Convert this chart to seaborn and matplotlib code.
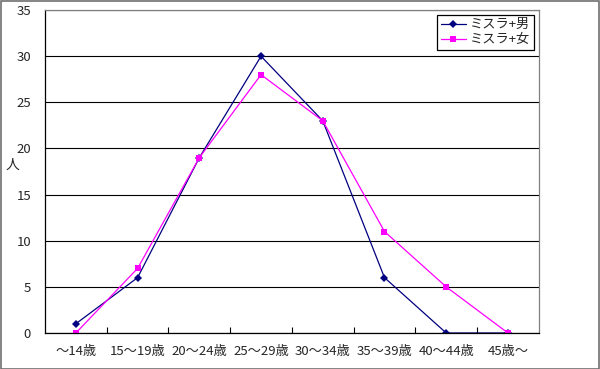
import matplotlib
matplotlib.use("Agg")
import matplotlib.pyplot as plt
import seaborn as sns
import pandas as pd
from matplotlib.ticker import FixedLocator

categories = ["～14歳", "15～19歳", "20～24歳", "25～29歳", "30～34歳", "35～39歳", "40～44歳", "45歳～"]
male = [1, 6, 19, 30, 23, 6, 0, 0]
female = [0, 7, 19, 28, 23, 11, 5, 0]
series_names = ["ミスラ+男", "ミスラ+女"]
y_ticks = [0, 5, 10, 15, 20, 25, 30, 35]

sns.set_style("white")
plt.rcParams['font.family'] = ['Noto Sans CJK JP', 'DejaVu Sans']

pos = list(range(len(categories)))
df = pd.DataFrame({
    "pos": pos * 2,
    "value": male + female,
    "series": [series_names[0]] * len(pos) + [series_names[1]] * len(pos),
})

fig = plt.figure(figsize=(6, 3.69), dpi=100)
ax = fig.add_axes([0.075, 0.0976, 0.823, 0.875])

sns.lineplot(data=df, x="pos", y="value", hue="series", style="series",
             palette={series_names[0]: "#000080", series_names[1]: "#FF00FF"},
             markers={series_names[0]: "D", series_names[1]: "s"},
             dashes=False, markersize=4.5, linewidth=0.9,
             markeredgewidth=0, ax=ax, legend=True)

ax.set_xlim(-0.5, len(categories) - 0.5)
ax.set_ylim(0, 35)
ax.set_yticks(y_ticks)
ax.set_xticks(pos)
ax.set_xticklabels(categories)
ax.xaxis.set_minor_locator(FixedLocator([p + 0.5 for p in pos[:-1]]))
ax.tick_params(axis='x', which='major', length=0, pad=9, labelsize=9.5, bottom=True)
ax.tick_params(axis='x', which='minor', length=4, direction='in', width=0.8,
               color='black', bottom=True)
ax.tick_params(axis='y', which='major', length=0, pad=10, labelsize=9.5)
ax.set_xlabel("")
ax.set_ylabel("人", rotation=0, fontsize=10)
ax.yaxis.set_label_coords(-0.066, 0.5)

ax.grid(axis='y', color='black', linewidth=0.8)
ax.grid(axis='x', visible=False)
ax.set_axisbelow(True)
for s in ['left', 'bottom']:
    ax.spines[s].set_color('black')
    ax.spines[s].set_linewidth(0.9)
for s in ['top', 'right']:
    ax.spines[s].set_color('#808080')
    ax.spines[s].set_linewidth(0.9)

leg = ax.legend(loc='upper right', bbox_to_anchor=(0.99, 0.985), fontsize=9.5,
                frameon=True, fancybox=False, edgecolor='black', framealpha=1,
                handlelength=1.9, borderpad=0.25, labelspacing=0.15,
                handletextpad=0.35, borderaxespad=0)
leg.get_frame().set_linewidth(0.9)

fig.patches.append(plt.Rectangle((0.001, 0.001), 0.997, 0.996, transform=fig.transFigure,
                                 fill=False, edgecolor='#707070', linewidth=1.2))

fig.savefig("out.png", dpi=100)
